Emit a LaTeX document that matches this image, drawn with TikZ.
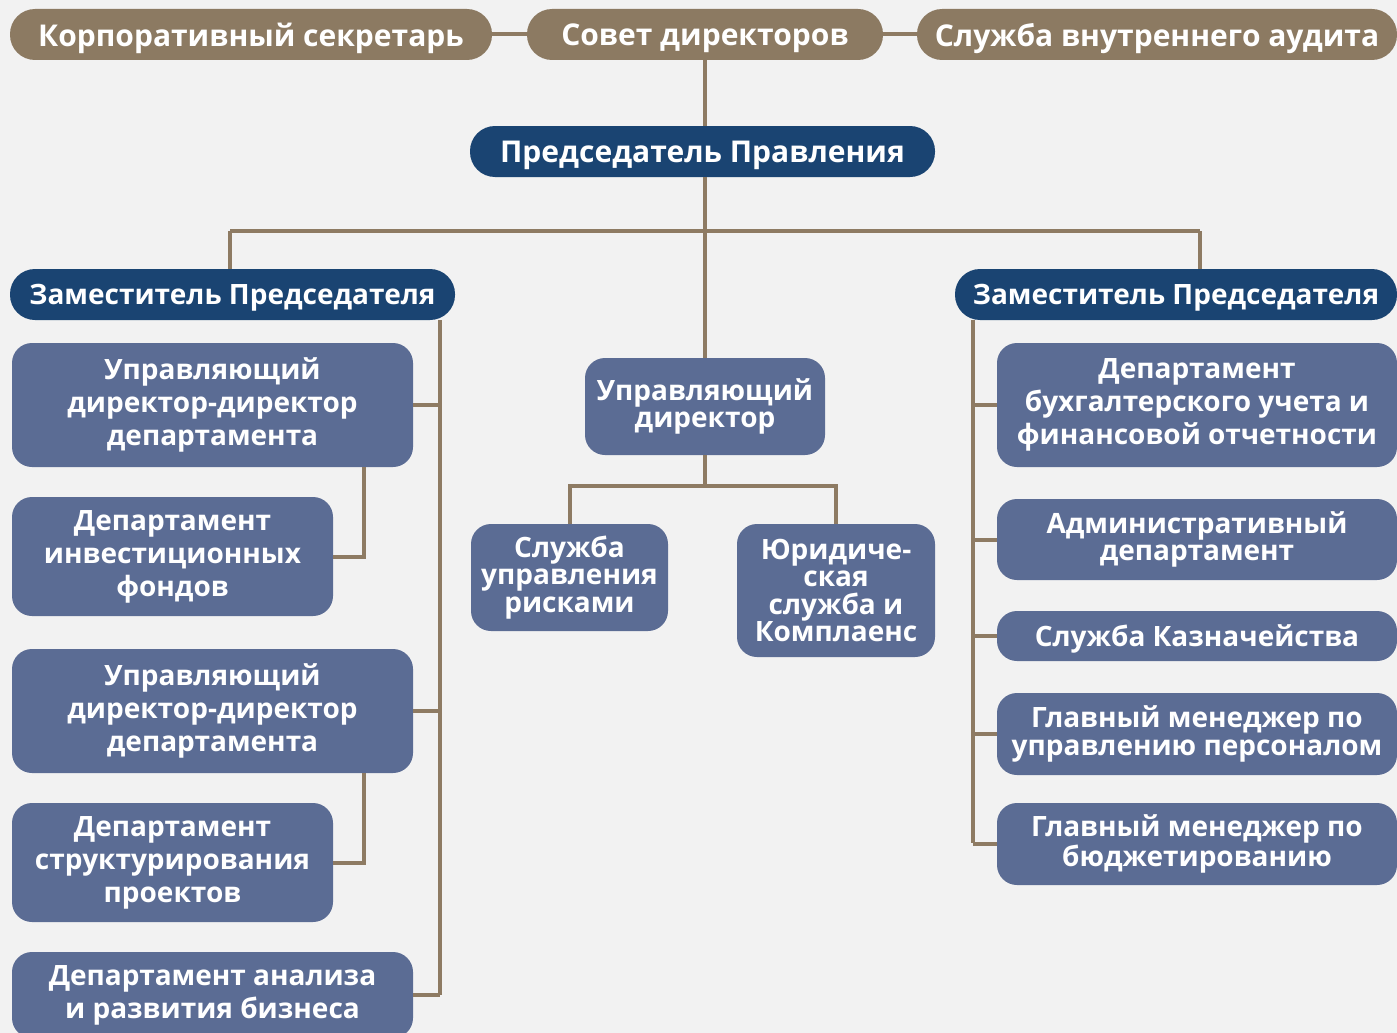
\documentclass[tikz,border=0pt]{standalone}
\usepackage{fontspec}
\setmainfont{Open Sans}
\definecolor{brn}{HTML}{8C7A62}
\definecolor{dblue}{HTML}{1A4472}
\definecolor{slate}{HTML}{5B6C94}
\definecolor{lnc}{HTML}{8E7B63}
\definecolor{bgc}{HTML}{F2F2F2}
\newcommand\boxat[7]{\node[#2, minimum width={#5-#3}, minimum height={#6-#4}] (#1) at ({(#3+#5)/2},{(#4+#6)/2}) {#7};}
\begin{document}
\begin{tikzpicture}[x=1pt,y=-1pt,
  topbox/.style={fill=brn, rounded corners=25pt, text=white, inner sep=0pt, text depth=0pt, font=\bfseries\fontsize{30}{32}\selectfont},
  headbox/.style={fill=dblue, rounded corners=25pt, text=white, inner sep=0pt, text depth=0pt, font=\bfseries\fontsize{28}{32}\selectfont},
  depbox/.style={fill=slate, rounded corners=20pt, text=white, inner sep=0pt, align=center, font=\bfseries\fontsize{28}{33}\selectfont},
  tight/.style={font=\bfseries\fontsize{28}{27.5}\selectfont},
  conn/.style={draw=lnc, line width=4pt}]
\fill[bgc] (0,0) rectangle (1397,1033);
\useasboundingbox (0,0) rectangle (1397,1033);
\begin{scope}
\clip (0,0) rectangle (1397,1033);
% top row
\boxat{sek}{topbox}{10}{9}{492}{60}{Корпоративный секретарь}
\boxat{sov}{topbox}{527}{9}{883}{60}{Совет директоров}
\boxat{aud}{topbox}{917}{9}{1397}{60}{Служба внутреннего аудита}
\boxat{pred}{headbox,font=\bfseries\fontsize{30}{32}\selectfont}{470}{126}{935}{177}{Председатель Правления}
\boxat{zl}{headbox}{10}{269}{455}{320}{Заместитель Председателя}
\boxat{zr}{headbox}{955}{269}{1397}{320}{Заместитель Председателя}
% left column
\boxat{b1}{depbox}{12}{343}{413}{467}{Управляющий\\директор-директор\\департамента}
\boxat{b2}{depbox}{12}{497}{333}{616}{Департамент\\инвестиционных\\фондов}
\boxat{b3}{depbox}{12}{649}{413}{773}{Управляющий\\директор-директор\\департамента}
\boxat{b4}{depbox}{12}{803}{333}{922}{Департамент\\структурирования\\проектов}
\boxat{b5}{depbox}{12}{952}{413}{1038}{Департамент анализа\\и развития бизнеса}
% center
\boxat{ud}{depbox,tight}{585}{358}{825}{455}{Управляющий\\директор}
\boxat{risk}{depbox,tight}{471}{524}{668}{631}{Служба\\управления\\рисками}
\boxat{legal}{depbox,tight}{737}{524}{935}{657}{Юридиче-\\ская\\служба и\\Комплаенс}
% right column
\boxat{r1}{depbox}{997}{343}{1397}{467}{Департамент\\бухгалтерского учета и\\финансовой отчетности}
\boxat{r2}{depbox,tight}{997}{499}{1397}{580}{Административный\\департамент}
\boxat{r3}{depbox,text depth=0pt}{997}{611}{1397}{661}{Служба Казначейства}
\boxat{r4}{depbox,tight}{997}{693}{1397}{775}{Главный менеджер по\\управлению персоналом}
\boxat{r5}{depbox,tight}{997}{803}{1397}{885}{Главный менеджер по\\бюджетированию}
\end{scope}
% coordinates
\coordinate (hL) at (230,231);
\coordinate (hR) at (1200,231);
\coordinate (lt) at (440,320);
\coordinate (lb) at (440,995);
\coordinate (k) at (364,0);
\coordinate (rt) at (973,320);
\coordinate (rb) at (973,843);
% connectors
\draw[conn] (sek.east) -- (sov.west);
\draw[conn] (sov.east) -- (aud.west);
\draw[conn] (sov.south) -- (sov.south |- pred.north);
\draw[conn] (ud.north |- pred.south) -- (ud.north);
\draw[conn] (hL) -- (hR);
\draw[conn] (hL) -- (hL |- zl.north);
\draw[conn] (hR) -- (hR |- zr.north);
\draw[conn] (lt) -- (lb);
\draw[conn] (b1.east) -- (b1.east -| lt);
\draw[conn] (b3.east) -- (b3.east -| lt);
\draw[conn] (b5.east) -- (b5.east -| lt);
\draw[conn] (b1.south -| k) |- (b2.east);
\draw[conn] (b3.south -| k) |- (b4.east);
\draw[conn] (ud.south) -- ++(0,31) -| (risk.north);
\draw[conn] (ud.south) ++(0,31) -| (legal.north);
\draw[conn] (rt) -- (rb);
\foreach \r in {r1,r2,r3,r4,r5} \draw[conn] (\r.west) -- (\r.west -| rt);
\end{tikzpicture}
\end{document}
